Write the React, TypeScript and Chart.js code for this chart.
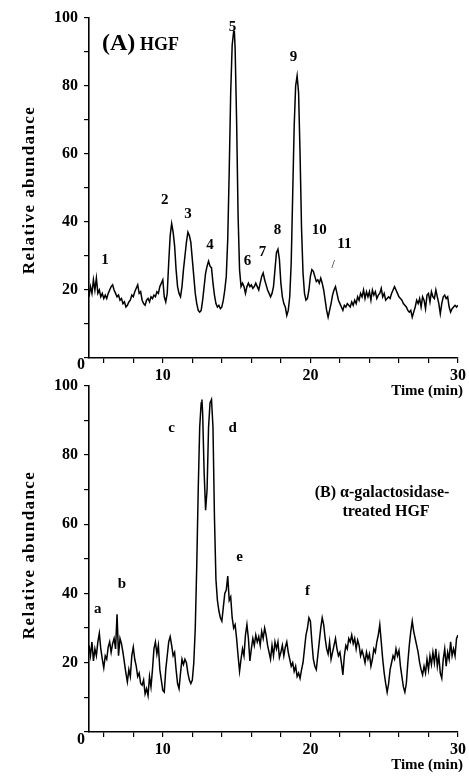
import React, { useEffect, useRef } from 'react';
import { Chart, registerables } from 'chart.js';
Chart.register(...registerables);

// ---------------- Data ----------------
const timesA = [
  5.0, 5.1, 5.2, 5.3, 5.4, 5.5, 5.6, 5.7, 5.8, 5.9,
  6.0, 6.1, 6.2, 6.3, 6.4, 6.5, 6.6, 6.7, 6.8, 6.9,
  7.0, 7.1, 7.2, 7.3, 7.4, 7.5, 7.6, 7.7, 7.8, 7.9,
  8.0, 8.1, 8.2, 8.3, 8.4, 8.5, 8.6, 8.7, 8.8, 8.9,
  9.0, 9.1, 9.2, 9.3, 9.4, 9.5, 9.6, 9.7, 9.8, 9.9,
  10.0, 10.1, 10.2, 10.3, 10.4, 10.5, 10.6, 10.7, 10.8, 10.9,
  11.0, 11.1, 11.2, 11.3, 11.4, 11.5, 11.6, 11.7, 11.8, 11.9,
  12.0, 12.1, 12.2, 12.3, 12.4, 12.5, 12.6, 12.7, 12.8, 12.9,
  13.0, 13.1, 13.2, 13.3, 13.4, 13.5, 13.6, 13.7, 13.8, 13.9,
  14.0, 14.1, 14.2, 14.3, 14.4, 14.5, 14.6, 14.7, 14.8, 14.85, 14.9,
  15.0, 15.1, 15.2, 15.3, 15.4, 15.5, 15.6, 15.7, 15.8, 15.9,
  16.0, 16.1, 16.2, 16.3, 16.4, 16.5, 16.6, 16.7, 16.8, 16.9,
  17.0, 17.1, 17.2, 17.3, 17.4, 17.5, 17.6, 17.7, 17.8, 17.9,
  18.0, 18.1, 18.2, 18.3, 18.4, 18.5, 18.6, 18.7, 18.8, 18.9,
  19.0, 19.1, 19.2, 19.3, 19.4, 19.5, 19.6, 19.7, 19.8, 19.9,
  20.0, 20.1, 20.2, 20.3, 20.4, 20.5, 20.6, 20.7, 20.8, 20.9,
  21.0, 21.1, 21.2, 21.3, 21.4, 21.5, 21.6, 21.7, 21.8, 21.9,
  22.0, 22.1, 22.2, 22.3, 22.4, 22.5, 22.6, 22.7, 22.8, 22.9,
  23.0, 23.1, 23.2, 23.3, 23.4, 23.5, 23.6, 23.7, 23.8, 23.9,
  24.0, 24.1, 24.2, 24.3, 24.4, 24.5, 24.6, 24.7, 24.8, 24.9,
  25.0, 25.1, 25.2, 25.3, 25.4, 25.5, 25.6, 25.7, 25.8, 25.9,
  26.0, 26.1, 26.2, 26.3, 26.4, 26.5, 26.6, 26.7, 26.8, 26.9,
  27.0, 27.1, 27.2, 27.3, 27.4, 27.5, 27.6, 27.7, 27.8, 27.9,
  28.0, 28.1, 28.2, 28.3, 28.4, 28.5, 28.6, 28.7, 28.8, 28.9,
  29.0, 29.1, 29.2, 29.3, 29.4, 29.5, 29.6, 29.7, 29.8, 29.9, 30.0,
];
const valuesA = [
  18, 21, 19, 23, 20, 23.5, 19, 20, 18, 19,
  17.5, 18.5, 17.5, 19, 20, 21, 21.5, 20, 19, 18,
  18.5, 17, 17.5, 16, 16.5, 15, 15.5, 16.5, 17, 18.5,
  18, 19.5, 20.5, 21.5, 19, 19.5, 17, 16, 15.5, 17,
  17.5, 16.5, 18, 17.5, 18.5, 18, 19.5, 19, 21, 22,
  23, 18, 16.5, 19, 28, 36, 39.5, 37, 33, 26,
  21, 19, 18, 21, 26, 30, 34, 37, 36, 34,
  29, 24, 19, 16, 14, 13.5, 14, 17, 21, 25,
  27, 28.5, 27, 26.5, 22, 18.5, 16, 15, 15.5, 14.5,
  15, 17, 20, 24, 35, 55, 78, 92, 96, 96, 91,
  70, 42, 26, 21, 22, 21, 19, 21, 22, 21,
  21.5, 20.5, 21, 22, 21, 20, 22, 24, 25, 23,
  21.5, 20, 19, 18, 19, 21, 26, 31, 32, 29,
  22, 18, 16, 15, 12.5, 14, 18, 28, 48, 68,
  80, 83, 78, 60, 38, 25, 19, 17, 17.5, 20,
  24, 26, 25.5, 24, 22.5, 23, 22, 23.5, 22, 20,
  17, 14, 12, 14, 16, 18.5, 20, 21, 19, 17,
  16, 15, 14, 15.5, 15, 16, 15.5, 15, 16.5, 15.5,
  17, 16, 18, 17, 19, 18, 20, 17.5, 19.5, 18,
  19.5, 17, 20, 18.5, 19.5, 17.5, 18.5, 19, 20.5, 18,
  19, 17, 17.5, 18, 17.5, 19, 20, 21, 20, 19,
  18, 17.5, 17, 16, 15.5, 15, 14, 13.5, 14, 12,
  13.5, 15, 17, 16, 17.5, 15, 18, 17, 14.5, 18.5,
  19, 16.5, 19.5, 18, 17.5, 20, 18, 16, 13, 16,
  18, 18.5, 17.5, 18, 15, 13.5, 14.5, 15, 15.5, 15, 15.5,
];

const timesB = [
  5.0, 5.1, 5.2, 5.3, 5.4, 5.5, 5.6, 5.7, 5.8, 5.9,
  6.0, 6.1, 6.2, 6.3, 6.4, 6.5, 6.6, 6.7, 6.8, 6.9,
  7.0, 7.1, 7.2, 7.3, 7.4, 7.5, 7.6, 7.7, 7.8, 7.9,
  8.0, 8.1, 8.2, 8.3, 8.4, 8.5, 8.6, 8.7, 8.8, 8.9,
  9.0, 9.1, 9.2, 9.3, 9.4, 9.5, 9.6, 9.7, 9.8, 9.9,
  10.0, 10.1, 10.2, 10.3, 10.4, 10.5, 10.6, 10.7, 10.8, 10.9,
  11.0, 11.1, 11.2, 11.3, 11.4, 11.5, 11.6, 11.7, 11.8, 11.9,
  12.0, 12.1, 12.2, 12.3, 12.4, 12.5, 12.6, 12.65, 12.7, 12.8, 12.9,
  13.0, 13.1, 13.2, 13.3, 13.4, 13.5, 13.6, 13.7, 13.8, 13.9,
  14.0, 14.1, 14.2, 14.3, 14.4, 14.5, 14.6, 14.7, 14.8, 14.9,
  15.0, 15.1, 15.2, 15.3, 15.4, 15.5, 15.6, 15.7, 15.8, 15.9,
  16.0, 16.1, 16.2, 16.3, 16.4, 16.5, 16.6, 16.7, 16.8, 16.9,
  17.0, 17.1, 17.2, 17.3, 17.4, 17.5, 17.6, 17.7, 17.8, 17.9,
  18.0, 18.1, 18.2, 18.3, 18.4, 18.5, 18.6, 18.7, 18.8, 18.9,
  19.0, 19.1, 19.2, 19.3, 19.4, 19.5, 19.6, 19.7, 19.8, 19.9,
  20.0, 20.1, 20.2, 20.3, 20.4, 20.5, 20.6, 20.7, 20.8, 20.9,
  21.0, 21.1, 21.2, 21.3, 21.4, 21.5, 21.6, 21.7, 21.8, 21.9,
  22.0, 22.1, 22.2, 22.3, 22.4, 22.5, 22.6, 22.7, 22.8, 22.9,
  23.0, 23.1, 23.2, 23.3, 23.4, 23.5, 23.6, 23.7, 23.8, 23.9,
  24.0, 24.1, 24.2, 24.3, 24.4, 24.5, 24.6, 24.7, 24.8, 24.9,
  25.0, 25.1, 25.2, 25.3, 25.4, 25.5, 25.6, 25.7, 25.8, 25.9,
  26.0, 26.1, 26.2, 26.3, 26.4, 26.5, 26.6, 26.7, 26.8, 26.9,
  27.0, 27.1, 27.2, 27.3, 27.4, 27.5, 27.6, 27.7, 27.8, 27.9,
  28.0, 28.1, 28.2, 28.3, 28.4, 28.5, 28.6, 28.7, 28.8, 28.9,
  29.0, 29.1, 29.2, 29.3, 29.4, 29.5, 29.6, 29.7, 29.8, 29.9, 30.0,
];
const valuesB = [
  25, 22, 26, 20.5, 24, 22, 26, 28.5, 24, 21,
  18.5, 22, 21, 24.5, 26, 23, 25.5, 27, 24, 34,
  22, 27, 25.5, 23, 20, 17, 14.5, 18, 16, 22,
  24.5, 21, 19, 16, 17, 14, 13.5, 15, 11, 12.5,
  10.5, 16, 13, 18, 24, 26, 22.5, 25, 18, 15,
  12, 11.5, 18, 22, 26, 27.5, 25, 22, 23, 18,
  14, 12.5, 17, 21, 19.5, 21, 20, 17, 15, 14,
  15, 20, 30, 48, 70, 88, 95, 96, 92, 75, 64,
  70, 88, 95, 96, 88, 62, 44, 38, 35, 33,
  32, 36, 40, 41, 45, 38, 39, 33, 30, 31,
  27, 22, 17.5, 21, 24, 22, 28, 31, 27, 20.5,
  24, 27, 25, 28, 26, 27.5, 25, 29, 27, 30,
  28, 25, 23, 21, 25, 22, 26, 24, 26, 21.5,
  23, 25, 22, 24.5, 26, 23, 21, 19, 20, 17.5,
  19, 16, 17, 15.5, 18, 20, 24, 28, 30, 33,
  32, 26, 21, 19, 18, 22, 26, 30, 33, 31,
  27, 24, 22.5, 26, 21, 23, 25, 27, 24, 22,
  23, 20, 16.5, 22, 25, 24, 27, 26, 28, 25.5,
  27, 24, 26.5, 25, 22, 23.5, 22, 20, 23, 21,
  22.5, 19, 21, 24, 23, 26, 28, 31, 26, 21,
  17, 14, 11.5, 14, 18, 20, 22, 21, 24, 22,
  23.5, 19, 16, 13, 11.5, 14, 20, 25, 29, 32,
  29, 27, 25, 23, 20, 18, 16.5, 19, 17, 21,
  18, 22, 19.5, 23, 20, 24, 19, 22, 17, 15.5,
  21, 24, 19, 23, 21, 26, 22, 24, 22, 27, 28,
];

// Axis ticks
const xTickValues = [6, 8, 10, 12, 14, 16, 18, 20, 22, 24, 26, 28, 30];
const xTickLabels = [10, 20, 30];
const yLabeledTicks = [20, 40, 60, 80, 100];

// Peak annotations (label text, time, abundance)
const peakNamesA = ['1', '2', '3', '4', '5', '6', '7', '8', '9', '10', '11', '/'];
const peakTimesA = [6.08, 10.14, 11.7, 13.2, 14.73, 15.74, 16.76, 17.77, 18.85, 20.6, 22.3, 21.55];
const peakLevelsA = [28.8, 46.5, 42.4, 33.2, 97.4, 28.5, 31.2, 37.6, 88.5, 37.6, 33.5, 27.5];

const peakNamesB = ['a', 'b', 'c', 'd', 'e', 'f'];
const peakTimesB = [5.6, 7.23, 10.6, 14.73, 15.2, 19.8];
const peakLevelsB = [35.6, 42.8, 87.6, 87.6, 50.6, 40.8];

const SERIF = "'Liberation Serif', 'Times New Roman', serif";

type PanelCfg = {
  times: number[];
  values: number[];
  names: string[];
  pTimes: number[];
  pLevels: number[];
  padTop: number;
  xAxisHeight: number;
  titleY: number;
  timeLabelY: number;
  zeroY: number;
  drawTitle: (ctx: CanvasRenderingContext2D) => void;
};

function makeChart(canvas: HTMLCanvasElement, cfg: PanelCfg) {
  const textPlugin = {
    id: 'texts',
    afterDraw(chart: any) {
      const ctx = chart.ctx as CanvasRenderingContext2D;
      const xs = chart.scales.x;
      const ys = chart.scales.y;
      ctx.save();
      ctx.fillStyle = '#000';
      // y-axis title
      ctx.save();
      ctx.translate(30, cfg.titleY);
      ctx.rotate(-Math.PI / 2);
      ctx.font = `bold 17px ${SERIF}`;
      (ctx as any).letterSpacing = '1.4px';
      ctx.textAlign = 'center';
      ctx.textBaseline = 'middle';
      ctx.fillText('Relative abundance', 0, 0);
      ctx.restore();
      // zero label
      ctx.font = `bold 16px ${SERIF}`;
      ctx.textAlign = 'center';
      ctx.textBaseline = 'middle';
      ctx.fillText('0', 81, cfg.zeroY);
      // Time label
      ctx.font = `bold 15px ${SERIF}`;
      ctx.textAlign = 'right';
      ctx.textBaseline = 'middle';
      ctx.fillText('Time (min)', 463, cfg.timeLabelY);
      // peak labels
      ctx.font = `bold 15px ${SERIF}`;
      ctx.textAlign = 'center';
      ctx.textBaseline = 'middle';
      cfg.names.forEach((n, i) => {
        const px = xs.getPixelForValue(cfg.pTimes[i]);
        const py = ys.getPixelForValue(cfg.pLevels[i]);
        if (n === '/') {
          ctx.font = `12px ${SERIF}`;
          ctx.fillText(n, px, py);
          ctx.font = `bold 15px ${SERIF}`;
        } else {
          ctx.fillText(n, px, py);
        }
      });
      cfg.drawTitle(ctx);
      ctx.restore();
    },
  };

  return new Chart(canvas, {
    type: 'line',
    data: {
      datasets: [
        {
          data: cfg.times.map((t, i) => ({ x: t, y: cfg.values[i] })),
          borderColor: '#000',
          borderWidth: 1.5,
          pointRadius: 0,
          tension: 0,
          fill: false,
        },
      ],
    },
    options: {
      responsive: false,
      animation: false,
      events: [],
      layout: { padding: { top: cfg.padTop, right: 10, left: 0, bottom: 0 } },
      plugins: { legend: { display: false }, tooltip: { enabled: false } },
      scales: {
        x: {
          type: 'linear',
          min: 5,
          max: 30,
          afterBuildTicks: (s: any) => {
            s.ticks = xTickValues.map((v) => ({ value: v }));
          },
          afterFit: (s: any) => {
            s.height = cfg.xAxisHeight;
          },
          ticks: {
            autoSkip: false,
            maxRotation: 0,
            padding: 3,
            color: '#000',
            font: { family: SERIF, size: 16, weight: 'bold' },
            callback: (v: any) => (xTickLabels.includes(Number(v)) ? String(v) : ''),
          },
          grid: { drawOnChartArea: false, drawTicks: true, tickLength: 5, color: '#000', lineWidth: 1.2 },
          border: { display: true, color: '#000', width: 1.6 },
        },
        y: {
          type: 'linear',
          min: 0,
          max: 100,
          afterFit: (s: any) => {
            s.width = 89;
          },
          ticks: {
            stepSize: 10,
            padding: 6,
            color: '#000',
            font: { family: SERIF, size: 16, weight: 'bold' },
            callback: (v: any) => (yLabeledTicks.includes(Number(v)) ? String(v) : ''),
          },
          grid: { drawOnChartArea: false, drawTicks: true, tickLength: 5, color: '#000', lineWidth: 1.2 },
          border: { display: true, color: '#000', width: 1.6 },
        },
      },
    },
    plugins: [textPlugin],
  } as any);
}

export default function App() {
  const refA = useRef<HTMLCanvasElement>(null);
  const refB = useRef<HTMLCanvasElement>(null);

  useEffect(() => {
    const chartA = makeChart(refA.current!, {
      times: timesA,
      values: valuesA,
      names: peakNamesA,
      pTimes: peakTimesA,
      pLevels: peakLevelsA,
      padTop: 18,
      xAxisHeight: 42,
      titleY: 190,
      timeLabelY: 391,
      zeroY: 365,
      drawTitle: (ctx) => {
        ctx.textAlign = 'left';
        ctx.textBaseline = 'alphabetic';
        ctx.font = `bold 24px ${SERIF}`;
        ctx.fillText('(A)', 102, 50);
        ctx.font = `bold 18px ${SERIF}`;
        ctx.fillText('HGF', 140, 50);
      },
    });
    const chartB = makeChart(refB.current!, {
      times: timesB,
      values: valuesB,
      names: peakNamesB,
      pTimes: peakTimesB,
      pLevels: peakLevelsB,
      padTop: 14,
      xAxisHeight: 44,
      titleY: 185,
      timeLabelY: 395,
      zeroY: 370,
      drawTitle: (ctx) => {
        ctx.textAlign = 'center';
        ctx.textBaseline = 'middle';
        ctx.font = `bold 16px ${SERIF}`;
        ctx.fillText('(B) \u03b1-galactosidase-', 382, 123);
        ctx.fillText('treated HGF', 386, 142);
      },
    });
    return () => {
      chartA.destroy();
      chartB.destroy();
    };
  }, []);

  return (
    <div style={{ position: 'absolute', left: 0, top: 0, width: 469, height: 776, background: '#fff' }}>
      <canvas ref={refA} width={469} height={400} style={{ position: 'absolute', left: 0, top: 0, width: 469, height: 400 }} />
      <canvas ref={refB} width={469} height={406} style={{ position: 'absolute', left: 0, top: 370, width: 469, height: 406 }} />
    </div>
  );
}
